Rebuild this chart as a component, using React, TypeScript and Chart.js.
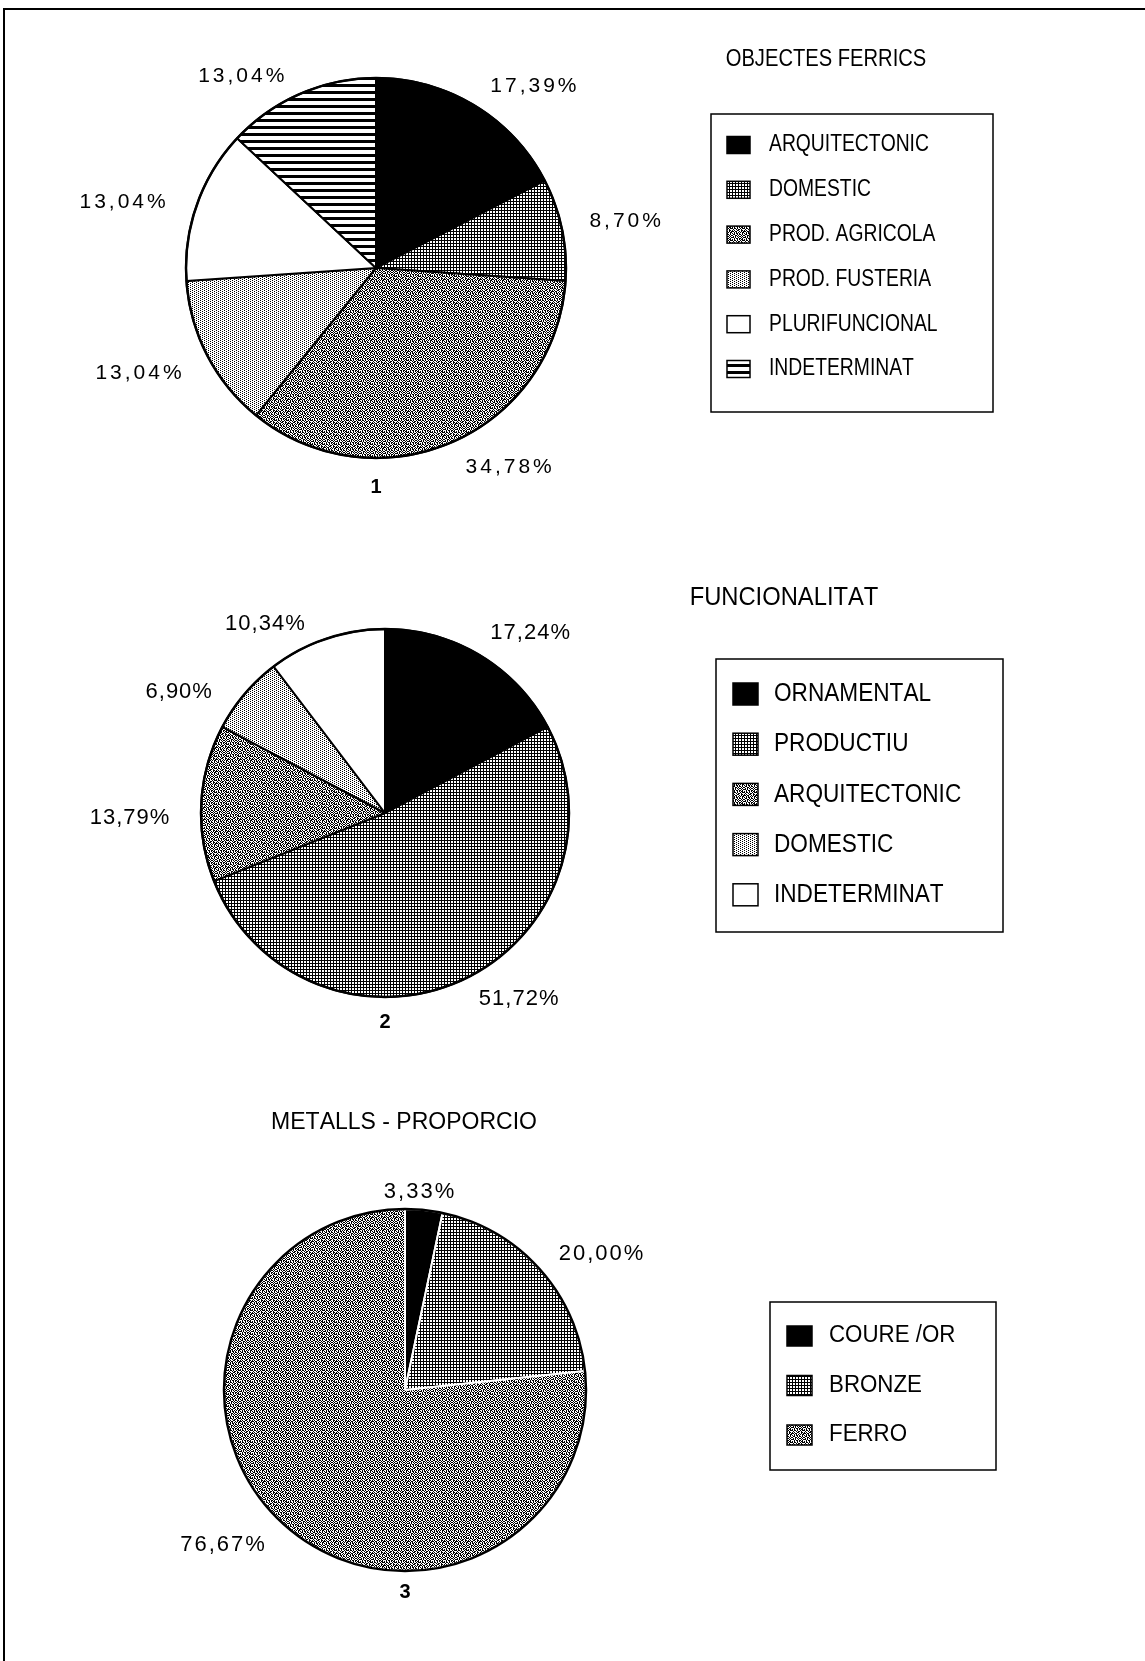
import React, { useEffect, useRef } from "react";
import { Chart, registerables } from "chart.js";

Chart.register(...registerables);

// ---------------- DATA ----------------
const labels1 = ["ARQUITECTONIC", "DOMESTIC", "PROD. AGRICOLA", "PROD. FUSTERIA", "PLURIFUNCIONAL", "INDETERMINAT"];
const values1 = [17.39, 8.7, 34.78, 13.04, 13.04, 13.04];
const fills1 = ["black", "dots", "texture", "light", "white", "stripes"];
const title1 = "OBJECTES FERRICS";
const number1 = "1";

const labels2 = ["ORNAMENTAL", "PRODUCTIU", "ARQUITECTONIC", "DOMESTIC", "INDETERMINAT"];
const values2 = [17.24, 51.72, 13.79, 6.9, 10.34];
const fills2 = ["black", "dots", "texture", "light", "white"];
const title2 = "FUNCIONALITAT";
const number2 = "2";

const labels3 = ["COURE /OR", "BRONZE", "FERRO"];
const values3 = [3.33, 20.0, 76.67];
const fills3 = ["black", "dots", "texture"];
const title3 = "METALLS - PROPORCIO";
const number3 = "3";

// ---------------- LAYOUT / STYLE ----------------
const W = 1145;
const H = 1661;
const FAMILY = "'Liberation Sans', Arial, Helvetica, sans-serif";

const PATTERNS: Record<string, string[]> = {
  dots: ["XXX", "X..", "X.."],
  texture: [
    "X.XX.X..X.XX",
    ".X..X.XX.X..",
    "X.X..XX..XX.",
    "XX.XX..X.X.X",
    "..X.X.X.X.XX",
    "X.X.XX.X..X.",
    ".XX..X.XX.X.",
    "X..XX.X..X.X",
    ".X.X.X.XX.X.",
    "XX.X..X..X.X",
    "..X.XX.XX.X.",
    "X.X..X.X.XX.",
  ],
  light: ["X...", "..X.", "X...", "..X."],
  stripes: ["X", "X", "X", ".", ".", ".", "."],
};

type Cfg = {
  labels: string[];
  values: number[];
  fills: string[];
  title: string;
  number: string;
  top: number;
  height: number;
  cx: number;
  cy: number;
  r: number;
  sliceBorder: string;
  numOffset: number;
  pct: { size: number; spacing: number; pad: number };
  nudge: number[][];
  titlePos: { x: number; y: number; size: number; sx: number };
  legend: { bx: number; by: number; bw: number; bh: number; sx0: number; tx: number; y0: number; dy: number; sw: number; shh: number; size: number; tsx: number };
};

const cfgs: Cfg[] = [
  {
    labels: labels1, values: values1, fills: fills1, title: title1, number: number1,
    top: 0, height: 540, cx: 376, cy: 268, r: 190, sliceBorder: "#000", numOffset: 29,
    pct: { size: 21, spacing: 3, pad: 30 },
    nudge: [[0, 0], [-2, -4], [2, -3], [1, 4], [-3, 6], [-4, 4]],
    titlePos: { x: 826, y: 59, size: 24, sx: 0.84 },
    legend: { bx: 711, by: 114, bw: 282, bh: 298, sx0: 727, tx: 769, y0: 145, dy: 44.8, sw: 23, shh: 17, size: 23, tsx: 0.84 },
  },
  {
    labels: labels2, values: values2, fills: fills2, title: title2, number: number2,
    top: 540, height: 530, cx: 385, cy: 273, r: 184, sliceBorder: "#000", numOffset: 25,
    pct: { size: 22, spacing: 1, pad: 30 },
    nudge: [[-5, -3], [4, -8], [-2, 16], [-10, 13], [-12, 7]],
    titlePos: { x: 784, y: 58, size: 25, sx: 0.95 },
    legend: { bx: 716, by: 119, bw: 287, bh: 273, sx0: 733, tx: 774, y0: 154, dy: 50.2, sw: 25, shh: 22, size: 26, tsx: 0.87 },
  },
  {
    labels: labels3, values: values3, fills: fills3, title: title3, number: number3,
    top: 1070, height: 591, cx: 405, cy: 320, r: 181, sliceBorder: "#fff", numOffset: 21,
    pct: { size: 22, spacing: 2, pad: 30 },
    nudge: [[-8, 5], [-3, 0], [1, -2]],
    titlePos: { x: 404, y: 53, size: 23, sx: 1.0 },
    legend: { bx: 770, by: 232, bw: 226, bh: 168, sx0: 787, tx: 829, y0: 266, dy: 49.5, sw: 25, shh: 20, size: 23, tsx: 0.97 },
  },
];

function makeFill(ctx: CanvasRenderingContext2D, kind: string): string | CanvasPattern {
  if (kind === "black") return "#000";
  if (kind === "white") return "#fff";
  const rows = PATTERNS[kind];
  const t = document.createElement("canvas");
  t.width = rows[0].length;
  t.height = rows.length;
  const tc = t.getContext("2d")!;
  tc.fillStyle = "#fff";
  tc.fillRect(0, 0, t.width, t.height);
  tc.fillStyle = "#000";
  rows.forEach((row, y) => {
    [...row].forEach((c, x) => {
      if (c === "X") tc.fillRect(x, y, 1, 1);
    });
  });
  return ctx.createPattern(t, "repeat") || "#888";
}

function drawText(
  ctx: CanvasRenderingContext2D,
  text: string,
  x: number,
  y: number,
  o: { size: number; sx?: number; spacing?: number; align?: "left" | "right" | "center"; bold?: boolean }
) {
  const sx = o.sx ?? 1;
  const spacing = o.spacing ?? 0;
  ctx.save();
  ctx.font = `${o.bold ? "bold " : ""}${o.size}px ${FAMILY}`;
  ctx.textBaseline = "middle";
  ctx.textAlign = "left";
  ctx.fillStyle = "#000";
  const chars = [...text];
  const widths = chars.map((c) => ctx.measureText(c).width);
  const total = (widths.reduce((a, b) => a + b, 0) + spacing * (chars.length - 1)) * sx;
  const align = o.align ?? "left";
  const start = align === "left" ? x : align === "right" ? x - total : x - total / 2;
  ctx.translate(start, y);
  ctx.scale(sx, 1);
  let px = 0;
  chars.forEach((c, i) => {
    ctx.fillText(c, px, 0);
    px += widths[i] + spacing;
  });
  ctx.restore();
}

function fmtPct(v: number) {
  return v.toFixed(2).replace(".", ",") + "%";
}

function decorPlugin(cfg: Cfg, fills: (string | CanvasPattern)[]) {
  return {
    id: "decor",
    afterDatasetsDraw(chart: any) {
      const ctx: CanvasRenderingContext2D = chart.ctx;
      const meta = chart.getDatasetMeta(0);
      const arcs = meta.data as any[];
      if (!arcs.length) return;
      const a0 = arcs[0];
      const cx = a0.x;
      const cy = a0.y;
      const r = a0.outerRadius;

      // outer circle
      ctx.save();
      ctx.beginPath();
      ctx.arc(cx, cy, r, 0, Math.PI * 2);
      ctx.lineWidth = 2.5;
      ctx.strokeStyle = "#000";
      ctx.stroke();
      ctx.restore();

      // percentage labels, placed from each arc's mid angle
      arcs.forEach((arc, i) => {
        const mid = (arc.startAngle + arc.endAngle) / 2;
        const c = Math.cos(mid);
        const s = Math.sin(mid);
        const rr = r + cfg.pct.pad;
        const n = cfg.nudge[i] || [0, 0];
        const x = cx + rr * c + n[0];
        const y = cy + rr * s + 7 * Math.max(0, -s) + n[1];
        const align = c > 0.2 ? "left" : c < -0.2 ? "right" : "center";
        drawText(ctx, fmtPct(cfg.values[i]), x, y, { size: cfg.pct.size, spacing: cfg.pct.spacing, align });
      });

      // chart number
      drawText(ctx, cfg.number, cx, cy + r + cfg.numOffset, { size: 20, bold: true, align: "center" });

      // title
      const tp = cfg.titlePos;
      drawText(ctx, cfg.title, tp.x, tp.y, { size: tp.size, sx: tp.sx, align: "center" });

      // legend
      const L = cfg.legend;
      ctx.save();
      ctx.lineWidth = 1.5;
      ctx.strokeStyle = "#000";
      ctx.strokeRect(L.bx, L.by, L.bw, L.bh);
      ctx.restore();
      cfg.labels.forEach((lab, i) => {
        const yc = L.y0 + i * L.dy;
        ctx.save();
        ctx.fillStyle = fills[i] as any;
        ctx.fillRect(L.sx0, yc - L.shh / 2, L.sw, L.shh);
        ctx.lineWidth = 1.5;
        ctx.strokeStyle = "#000";
        ctx.strokeRect(L.sx0, yc - L.shh / 2, L.sw, L.shh);
        ctx.restore();
        drawText(ctx, lab, L.tx, yc, { size: L.size, sx: L.tsx, align: "left" });
      });
    },
  };
}

function PieSection({ cfg }: { cfg: Cfg }) {
  const ref = useRef<HTMLCanvasElement>(null);
  useEffect(() => {
    const canvas = ref.current!;
    const ctx = canvas.getContext("2d")!;
    const fills = cfg.fills.map((k) => makeFill(ctx, k));
    const padding = {
      left: cfg.cx - cfg.r - 1,
      top: cfg.cy - cfg.r - 1,
      right: W - (cfg.cx + cfg.r + 1),
      bottom: cfg.height - (cfg.cy + cfg.r + 1),
    };
    const chart = new Chart(canvas, {
      type: "pie",
      data: {
        labels: cfg.labels,
        datasets: [
          {
            data: cfg.values,
            backgroundColor: fills as any,
            borderColor: cfg.sliceBorder,
            borderWidth: 2,
          },
        ],
      },
      options: {
        animation: false,
        responsive: false,
        maintainAspectRatio: false,
        devicePixelRatio: 1,
        events: [],
        layout: { padding },
        plugins: { legend: { display: false }, tooltip: { enabled: false } },
      },
      plugins: [decorPlugin(cfg, fills)],
    });
    return () => chart.destroy();
  }, [cfg]);
  return (
    <canvas
      ref={ref}
      width={W}
      height={cfg.height}
      style={{ position: "absolute", left: 0, top: cfg.top, width: W, height: cfg.height, display: "block" }}
    />
  );
}

export default function App() {
  return (
    <div style={{ position: "absolute", left: 0, top: 0, width: W, height: H, background: "#fff", overflow: "hidden" }}>
      {cfgs.map((c, i) => (
        <PieSection key={i} cfg={c} />
      ))}
      <div
        style={{
          position: "absolute",
          left: 3,
          top: 8,
          width: W,
          height: H,
          borderLeft: "2px solid #000",
          borderTop: "2px solid #000",
          pointerEvents: "none",
        }}
      />
    </div>
  );
}
